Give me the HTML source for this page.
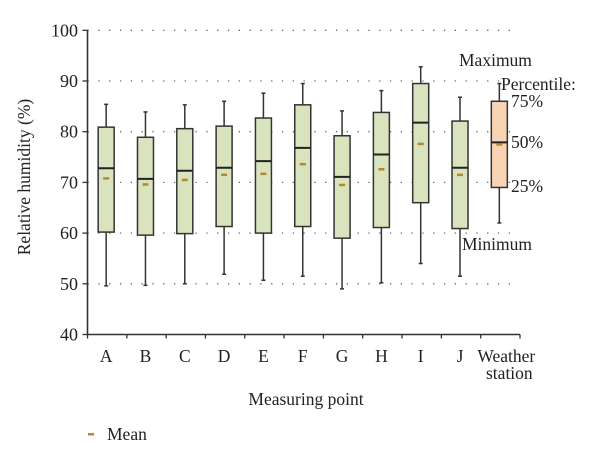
<!DOCTYPE html>
<html><head><meta charset="utf-8"><style>
html,body{margin:0;padding:0;background:#fff;}
svg{display:block;font-family:"Liberation Serif",serif;}
</style></head><body>
<svg id="chart" width="600" height="452" viewBox="0 0 600 452">
<g id="grid"></g>
<g id="boxes"></g>
<g id="axes"></g>
<text x="30" y="177" font-size="17.5" text-anchor="middle" transform="rotate(-90 30 177)" fill="#222">Relative humidity (%)</text>
<text x="306" y="405" font-size="17.5" text-anchor="middle" fill="#222">Measuring point</text>
<g>
<rect x="88" y="433" width="6" height="2.5" fill="#b8862b"></rect>
<text x="107" y="440" font-size="17.5" fill="#222">Mean</text>
</g>
<g font-size="17.5" fill="#222">
<text x="459" y="66">Maximum</text>
<text x="501" y="90">Percentile:</text>
<text x="511" y="107">75%</text>
<text x="511" y="148">50%</text>
<text x="511" y="192">25%</text>
<text x="462" y="250">Minimum</text>
</g>
</svg>
<script>
const categories=["A","B","C","D","E","F","G","H","I","J","Weather station"];
const maxVals=[85.4,83.9,85.3,86.0,87.6,89.5,84.1,88.1,92.8,86.8,89.5];
const q3Vals=[80.9,78.9,80.6,81.1,82.7,85.3,79.2,83.8,89.5,82.1,86.0];
const medianVals=[72.8,70.7,72.3,72.9,74.2,76.8,71.1,75.5,81.8,72.9,77.9];
const meanVals=[70.8,69.6,70.5,71.5,71.7,73.6,69.5,72.6,77.6,71.5,77.5];
const q1Vals=[60.2,59.6,59.9,61.3,60.0,61.3,59.0,61.1,66.0,60.9,69.0];
const minVals=[49.6,49.7,50.0,51.9,50.7,51.5,49.0,50.2,54.0,51.5,62.0];
const yTicks=[40,50,60,70,80,90,100];

const NS="http://www.w3.org/2000/svg";
const x0=87.5,x1=520,yTop=30.3,yBot=334.5,vMin=40,vMax=100;
const step=(x1-x0)/categories.length;
function yScale(v){return yBot-(v-vMin)/(vMax-vMin)*(yBot-yTop);}
function xCenter(i){return x0+step*(i+0.5)-1;}
function mk(tag,attrs,parent){const e=document.createElementNS(NS,tag);for(const k in attrs)e.setAttribute(k,attrs[k]);parent.appendChild(e);return e;}
const grid=document.getElementById('grid'),axes=document.getElementById('axes'),boxes=document.getElementById('boxes');

yTicks.forEach(t=>{
  const y=yScale(t);
  if(t>vMin){
    const g=mk('line',{x1:x0,x2:515,y1:y,y2:y,stroke:'#666','stroke-width':1.3,'stroke-dasharray':'1.3 9.5'},grid);
    
    
  }
  const tk=mk('line',{x1:x0-5,x2:x0,y1:y,y2:y,stroke:'#333','stroke-width':1.3},axes);
  
  
  const lb=mk('text',{x:78,y:y+6,'font-size':18,'text-anchor':'end',fill:'#222'},axes);
  lb.textContent=t;
  
  
});
const ya=mk('line',{x1:x0,x2:x0,y1:yTop,y2:yBot,stroke:'#333','stroke-width':1.6},axes);


const xa=mk('line',{x1:x0,x2:x1,y1:yBot,y2:yBot,stroke:'#333','stroke-width':1.6},axes);


for(let i=0;i<=categories.length;i++){
  const x=x0+step*i;
  const t=mk('line',{x1:x,x2:x,y1:yBot,y2:yBot+4,stroke:'#333','stroke-width':1.3},axes);
  
  
}
categories.forEach((c,i)=>{
  const cx=xCenter(i);
  const lb=mk('text',{x:cx+(i==10?7:0),y:362,'font-size':17.5,'text-anchor':'middle',fill:'#222'},axes);
  
  
  if(c.indexOf(' ')>0){
    const parts=c.split(' ');
    lb.textContent=parts[0];
    const l2=mk('text',{x:cx+10,y:379,'font-size':17.5,'text-anchor':'middle',fill:'#222'},axes);
    l2.textContent=parts[1];
    
    
  } else lb.textContent=c;

  const g=mk('g',{},boxes);
  
  
  const w=16,fill=i==10?'#f9d4b4':'#d9e4bf';
  const wh=mk('line',{x1:cx,x2:cx,y1:yScale(maxVals[i]),y2:yScale(minVals[i]),stroke:'#333','stroke-width':1.5},g);
  
  
  [maxVals[i],minVals[i]].forEach(v=>{
    const cap=mk('line',{x1:cx-2,x2:cx+2,y1:yScale(v),y2:yScale(v),stroke:'#333','stroke-width':1.5},g);
    
    
  });
  const r=mk('rect',{x:cx-w/2,y:yScale(q3Vals[i]),width:w,height:yScale(q1Vals[i])-yScale(q3Vals[i]),fill:fill,stroke:'#333','stroke-width':1.5},g);
  
  
  const md=mk('line',{x1:cx-w/2,x2:cx+w/2,y1:yScale(medianVals[i]),y2:yScale(medianVals[i]),stroke:'#222','stroke-width':2},g);
  
  
  const mn=mk('rect',{x:cx-3,y:yScale(meanVals[i])-1.2,width:6,height:2.5,fill:'#b8862b'},g);
  
  
});
</script>
</body></html>
